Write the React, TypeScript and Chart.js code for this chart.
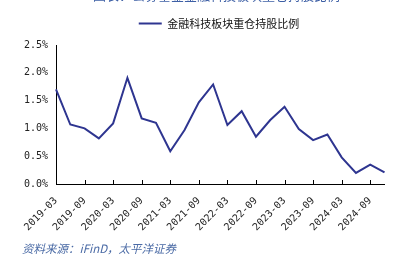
import React, { useEffect, useRef } from "react";
import { Chart, registerables } from "chart.js";

Chart.register(...registerables);

const quarters = [
  "2019-03", "2019-06", "2019-09", "2019-12",
  "2020-03", "2020-06", "2020-09", "2020-12",
  "2021-03", "2021-06", "2021-09", "2021-12",
  "2022-03", "2022-06", "2022-09", "2022-12",
  "2023-03", "2023-06", "2023-09", "2023-12",
  "2024-03", "2024-06", "2024-09", "2024-12",
];

const holdingRatio = [
  1.70, 1.07, 1.00, 0.82,
  1.09, 1.91, 1.18, 1.10,
  0.59, 0.97, 1.47, 1.79,
  1.06, 1.31, 0.85, 1.15,
  1.39, 0.99, 0.79, 0.89,
  0.48, 0.20, 0.35, 0.21,
];

const seriesName = "金融科技板块重仓持股比例";
const titleText = "图表：公募基金金融科技板块重仓持股比例";
const sourceText = "资料来源：iFinD，太平洋证券";

const lineColor = "#2E3590";
const axisFont = { size: 10, family: "'DejaVu Sans Mono'" };

export default function App() {
  const ref = useRef<HTMLCanvasElement | null>(null);

  useEffect(() => {
    if (!ref.current) return;
    const innerTicks = {
      id: "innerTicks",
      afterDraw(chart: any) {
        const xs = chart.scales.x;
        const ctx = chart.ctx;
        const bottom = chart.chartArea.bottom;
        ctx.save();
        ctx.strokeStyle = "#000";
        ctx.lineWidth = 1;
        xs.ticks.forEach((_t: any, i: number) => {
          if (i % 2 !== 0) return;
          const x = Math.round(xs.getPixelForTick(i)) + 0.5;
          ctx.beginPath();
          ctx.moveTo(x, bottom);
          ctx.lineTo(x, bottom - 4);
          ctx.stroke();
        });
        ctx.restore();
      },
    };
    const legendShift = {
      id: "legendShift",
      afterLayout(chart: any) {
        if (chart.legend) {
          chart.legend.left += 39;
        }
      },
    };

    const chart = new Chart(ref.current, {
      type: "line",
      data: {
        labels: quarters,
        datasets: [
          {
            label: seriesName,
            data: holdingRatio,
            borderColor: lineColor,
            backgroundColor: lineColor,
            borderWidth: 2,
            pointRadius: 0,
            tension: 0,
            fill: false,
          },
        ],
      },
      options: {
        animation: false,
        responsive: false,
        layout: { padding: { top: 10, right: 5, left: 0, bottom: 0 } },
        plugins: {
          legend: {
            position: "top",
            labels: {
              usePointStyle: true,
              pointStyle: "line",
              pointStyleWidth: 23,
              font: { size: 11, family: "'Noto Sans CJK SC'" },
              color: "#111",
              padding: 8,
            },
          },
          subtitle: {
            display: true,
            text: "",
            position: "top",
            weight: 500,
            padding: 0,
            font: { size: 5 },
          } as any,
          tooltip: { enabled: false },
        },
        scales: {
          x: {
            grid: { display: false, drawTicks: false },
            border: { display: true, color: "#000", width: 1 },
            ticks: {
              autoSkip: false,
              maxRotation: 45,
              minRotation: 45,
              padding: 11,
              color: "#222",
              font: axisFont,
              callback: (_v: any, i: number) => (i % 2 === 0 ? quarters[i] : ""),
            },
            afterFit: (s: any) => {
              s.height = 77;
            },
          },
          y: {
            min: 0,
            max: 2.5,
            grid: { display: false, drawTicks: false },
            border: { display: true, color: "#000", width: 1 },
            ticks: {
              stepSize: 0.5,
              padding: 8,
              color: "#222",
              font: axisFont,
              callback: (v: any) => Number(v).toFixed(1) + "%",
            },
            afterFit: (s: any) => {
              s.width = 56;
            },
          },
        },
      },
      plugins: [innerTicks, legendShift],
    });
    return () => chart.destroy();
  }, []);

  return (
    <div style={{ position: "fixed", left: 0, top: 0, width: 404, height: 261, background: "#fff", overflow: "hidden" }}>
      <canvas ref={ref} width={404} height={261} style={{ position: "absolute", left: 0, top: 0, width: 404, height: 261 }} />
      <div
        style={{
          position: "absolute",
          left: 93,
          top: -12,
          fontFamily: "'Noto Sans CJK SC'",
          fontSize: 13,
          color: "#3D5FA5",
          whiteSpace: "nowrap",
          lineHeight: "14px",
        }}
      >
        {titleText}
      </div>
      <div
        style={{
          position: "absolute",
          left: 22,
          top: 241,
          fontFamily: "'Noto Sans CJK SC'",
          fontSize: 11.5,
          fontStyle: "italic",
          color: "#4A6AA5",
          whiteSpace: "nowrap",
          lineHeight: "14px",
        }}
      >
        {sourceText}
      </div>
    </div>
  );
}
